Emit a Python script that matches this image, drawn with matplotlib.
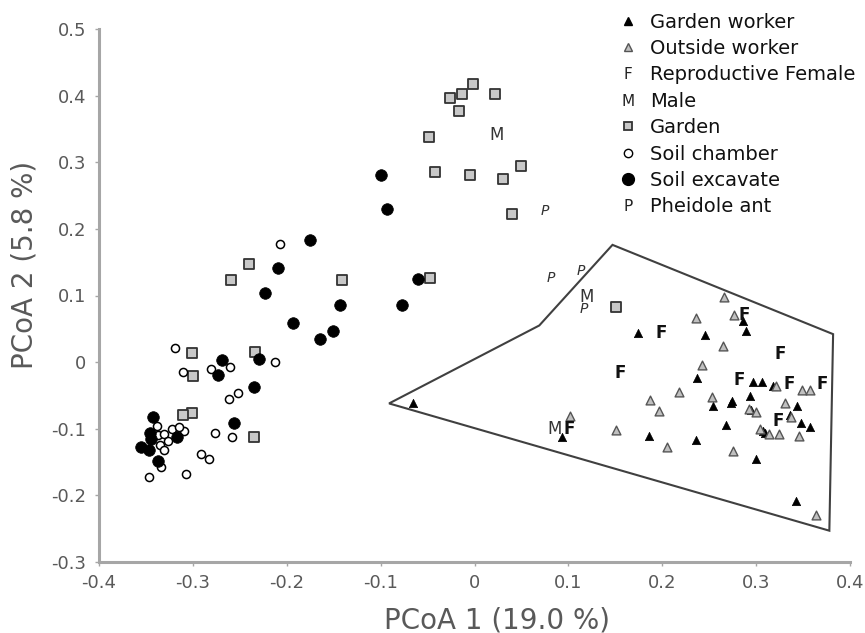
import matplotlib
matplotlib.use("Agg")
import matplotlib.pyplot as plt
from matplotlib.lines import Line2D
import matplotlib.text as mtext

plt.rcParams['font.family'] = ['DejaVu Sans']

# ---------------- data ----------------
garden_worker_x = [-0.066, 0.093, 0.174, 0.246, 0.286, 0.289, 0.237, 0.297, 0.306, 0.318, 0.294, 0.274,
                   0.273, 0.254, 0.295, 0.344, 0.268, 0.348, 0.357, 0.307, 0.309, 0.186, 0.236, 0.300,
                   0.342, 0.336]
garden_worker_y = [-0.062, -0.112, 0.043, 0.040, 0.062, 0.047, -0.024, -0.030, -0.030, -0.036, -0.051, -0.058,
                   -0.062, -0.066, -0.072, -0.066, -0.094, -0.091, -0.098, -0.103, -0.106, -0.111, -0.117, -0.146,
                   -0.209, -0.080]

outside_worker_x = [0.102, 0.266, 0.236, 0.276, 0.265, 0.242, 0.218, 0.187, 0.197, 0.151, 0.205, 0.275,
                    0.253, 0.292, 0.300, 0.321, 0.349, 0.357, 0.331, 0.337, 0.304, 0.314, 0.324, 0.346, 0.364]
outside_worker_y = [-0.081, 0.097, 0.066, 0.070, 0.024, -0.004, -0.045, -0.057, -0.073, -0.102, -0.127, -0.133,
                    -0.052, -0.070, -0.075, -0.036, -0.042, -0.042, -0.062, -0.083, -0.100, -0.108, -0.108,
                    -0.111, -0.230]

female_x = [0.199, 0.155, 0.287, 0.326, 0.282, 0.335, 0.370, 0.324, 0.101]
female_y = [0.043, -0.016, 0.071, 0.012, -0.027, -0.033, -0.033, -0.088, -0.100]

male_x = [0.023, 0.119, 0.085]
male_y = [0.341, 0.098, -0.100]

pheidole_x = [0.075, 0.081, 0.113, 0.116]
pheidole_y = [0.227, 0.127, 0.137, 0.079]

garden_x = [-0.002, -0.013, -0.026, 0.022, -0.0165, -0.048, -0.042, -0.005, 0.030, 0.0495, 0.0396, -0.047,
            0.151, -0.240, -0.259, -0.141, -0.301, -0.300, -0.234, -0.301, -0.311, -0.235]
garden_y = [0.417, 0.402, 0.396, 0.402, 0.377, 0.338, 0.285, 0.281, 0.275, 0.294, 0.223, 0.127,
            0.082, 0.148, 0.124, 0.124, 0.013, -0.021, 0.015, -0.076, -0.080, -0.113]

soil_chamber_x = [-0.207, -0.310, -0.281, -0.260, -0.212, -0.262, -0.252, -0.276, -0.258, -0.309, -0.319,
                  -0.291, -0.283, -0.307, -0.347, -0.334, -0.338, -0.337, -0.331, -0.322, -0.315, -0.326,
                  -0.335, -0.331]
soil_chamber_y = [0.177, -0.015, -0.010, -0.008, 0.000, -0.055, -0.046, -0.106, -0.113, -0.103, 0.021,
                  -0.138, -0.146, -0.168, -0.173, -0.157, -0.096, -0.110, -0.108, -0.101, -0.097, -0.119,
                  -0.125, -0.132]

soil_excavate_x = [-0.100, -0.093, -0.175, -0.209, -0.223, -0.143, -0.060, -0.077, -0.193, -0.151, -0.165,
                   -0.269, -0.273, -0.230, -0.235, -0.256, -0.343, -0.346, -0.345, -0.355, -0.347, -0.317,
                   -0.337]
soil_excavate_y = [0.281, 0.230, 0.183, 0.141, 0.104, 0.085, 0.125, 0.085, 0.058, 0.046, 0.034,
                   0.003, -0.019, 0.004, -0.038, -0.091, -0.083, -0.106, -0.116, -0.127, -0.132, -0.112,
                   -0.149]

hull_x = [-0.091, 0.069, 0.147, 0.382, 0.378]
hull_y = [-0.062, 0.055, 0.176, 0.042, -0.253]

x_ticks = [-0.4, -0.3, -0.2, -0.1, 0, 0.1, 0.2, 0.3, 0.4]
x_ticklabels = ['-0.4', '-0.3', '-0.2', '-0.1', '0', '0.1', '0.2', '0.3', '0.4']
y_ticks = [-0.3, -0.2, -0.1, 0, 0.1, 0.2, 0.3, 0.4, 0.5]
y_ticklabels = ['-0.3', '-0.2', '-0.1', '0', '0.1', '0.2', '0.3', '0.4', '0.5']

legend_labels = ['Garden worker', 'Outside worker', 'Reproductive Female', 'Male',
                 'Garden', 'Soil chamber', 'Soil excavate', 'Pheidole ant']

# ---------------- figure ----------------
fig = plt.figure(figsize=(8.65, 6.33), dpi=100)
ax = fig.add_axes([99/865, 1-562/633, 751/865, 533/633])

axis_gray = '#a6a6a6'
text_gray = '#595959'

# hull polygon
ax.fill(hull_x, hull_y, facecolor='none', edgecolor='#404040', linewidth=1.5, zorder=2)

ax.scatter(garden_x, garden_y, marker='s', s=42, facecolor='#c8c8c8', edgecolor='#333333',
           linewidth=1.3, zorder=3)
ax.scatter(soil_chamber_x, soil_chamber_y, marker='o', s=34, facecolor='white', edgecolor='black',
           linewidth=1.1, zorder=3)
ax.scatter(soil_excavate_x, soil_excavate_y, marker='o', s=70, facecolor='black', edgecolor='black',
           linewidth=0.5, zorder=4)
ax.scatter(garden_worker_x, garden_worker_y, marker='^', s=36, facecolor='black', edgecolor='black',
           linewidth=0.5, zorder=4)
ax.scatter(outside_worker_x, outside_worker_y, marker='^', s=40, facecolor='#c0c0c0', edgecolor='#555555',
           linewidth=1.0, zorder=5)

for x, y in zip(female_x, female_y):
    ax.text(x, y, 'F', ha='center', va='center', fontsize=12, fontweight='bold', color='#111111', zorder=6)
for x, y in zip(male_x, male_y):
    ax.text(x, y, 'M', ha='center', va='center', fontsize=12, color='#333333', zorder=6)
for x, y in zip(pheidole_x, pheidole_y):
    ax.text(x, y, 'P', ha='center', va='center', fontsize=10, style='italic', color='#333333', zorder=6)

ax.set_xlim(-0.4, 0.4)
ax.set_ylim(-0.3, 0.5)
ax.set_xticks(x_ticks)
ax.set_xticklabels(x_ticklabels)
ax.set_yticks(y_ticks)
ax.set_yticklabels(y_ticklabels)
ax.tick_params(axis='both', colors=axis_gray, labelcolor=text_gray, labelsize=13,
               length=3, width=1, direction='out', pad=6)

for side in ['top', 'right']:
    ax.spines[side].set_visible(False)
for side in ['left', 'bottom']:
    ax.spines[side].set_color(axis_gray)
    ax.spines[side].set_linewidth(2.2)

ax.set_xlabel('PCoA 1 (19.0 %)', fontsize=20, color=text_gray)
ax.set_ylabel('PCoA 2 (5.8 %)', fontsize=20, color=text_gray)
ax.xaxis.label.set_va('center')
ax.yaxis.label.set_va('center')
ax.xaxis.set_label_coords(0.53, -0.109)
ax.yaxis.set_label_coords(-0.099, 0.557)


# ---------------- legend ----------------
class LetterHandle:
    def __init__(self, s):
        self.s = s


class LetterHandler:
    def legend_artist(self, legend, orig_handle, fontsize, handlebox):
        x0, y0 = handlebox.xdescent, handlebox.ydescent
        w, h = handlebox.width, handlebox.height
        t = mtext.Text(x0 + w / 2, y0 + h / 2 - 1, orig_handle.s, ha='center', va='center',
                       fontsize=11, color='#222222')
        handlebox.add_artist(t)
        return t


handles = [
    Line2D([], [], marker='^', linestyle='none', markersize=6, markerfacecolor='black',
           markeredgecolor='black'),
    Line2D([], [], marker='^', linestyle='none', markersize=6, markerfacecolor='#c0c0c0',
           markeredgecolor='#555555'),
    LetterHandle('F'),
    LetterHandle('M'),
    Line2D([], [], marker='s', linestyle='none', markersize=6, markerfacecolor='#c8c8c8',
           markeredgecolor='#333333', markeredgewidth=1.3),
    Line2D([], [], marker='o', linestyle='none', markersize=6, markerfacecolor='white',
           markeredgecolor='black'),
    Line2D([], [], marker='o', linestyle='none', markersize=8.5, markerfacecolor='black',
           markeredgecolor='black'),
    LetterHandle('P'),
]

leg = ax.legend(handles, legend_labels, handler_map={LetterHandle: LetterHandler()},
                loc='upper left', bbox_to_anchor=(605/865, 1 + 1/633), bbox_transform=fig.transFigure,
                frameon=False, fontsize=14, handlelength=1.0, handletextpad=0.6,
                labelspacing=0.38, borderpad=0.2)
for t in leg.get_texts():
    t.set_color('#111111')

fig.savefig('out.png', dpi=100)
